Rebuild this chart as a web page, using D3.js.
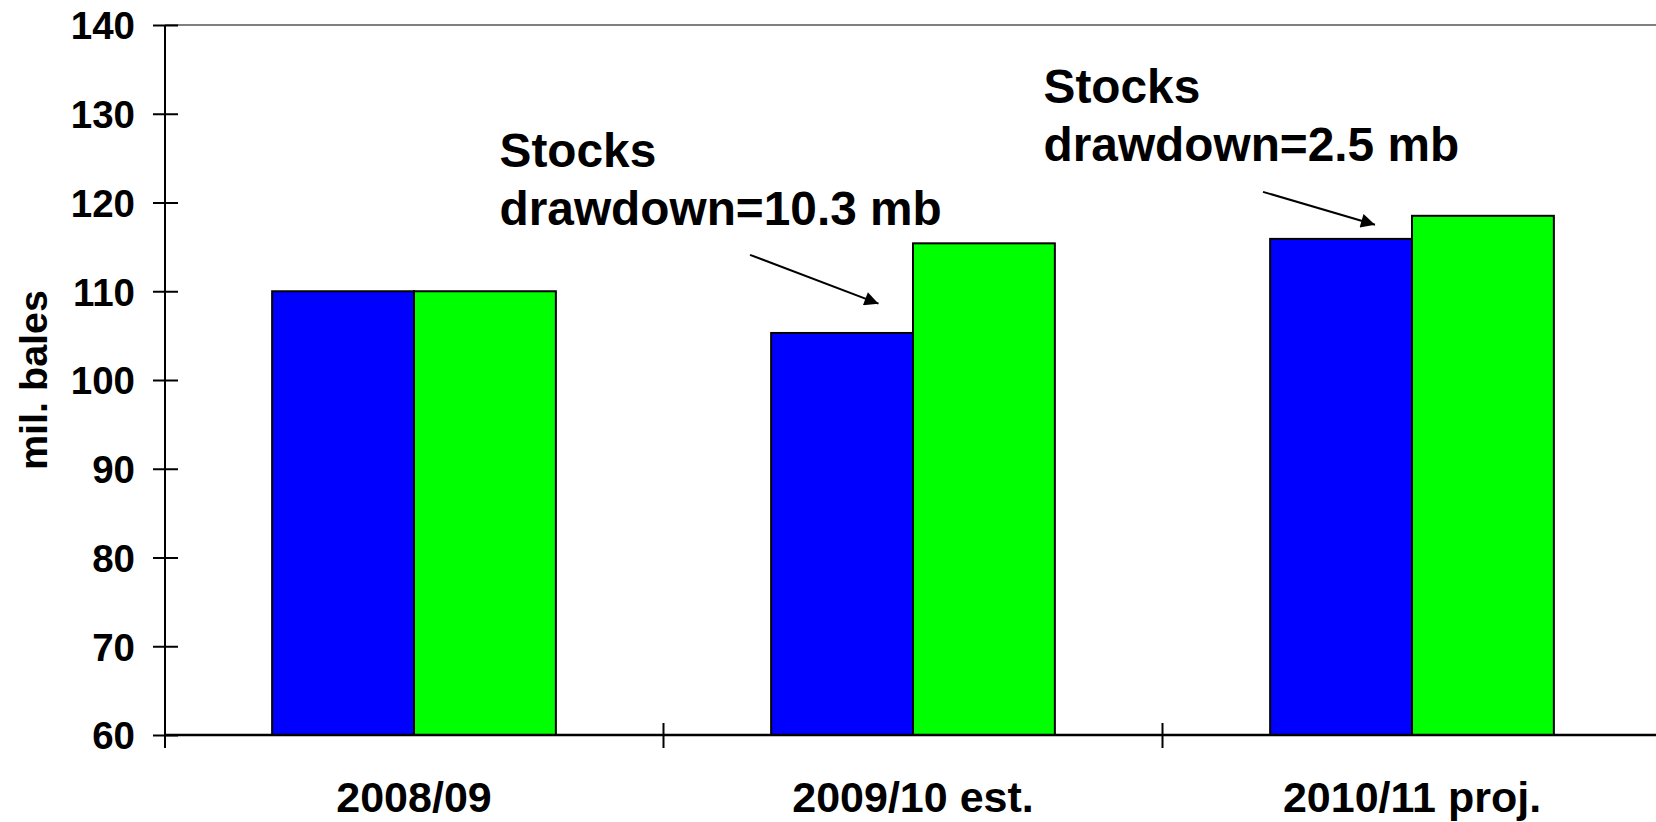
<!DOCTYPE html>
<html>
<head>
<meta charset="utf-8">
<script src="https://cdn.jsdelivr.net/npm/d3@7"></script>
<style>
  html, body { margin: 0; padding: 0; background: #fff; }
  svg { display: block; }
  text { font-family: "Liberation Sans", Arial, sans-serif; font-weight: bold; fill: #000; }
</style>
</head>
<body>
<svg id="chart" width="1656" height="822"></svg>
<script>
// ---- data ----
const categories = ["2008/09", "2009/10 est.", "2010/11 proj."];
const seriesNames = ["blue", "green"];
const blueValues = [110.0, 105.3, 115.9];
const greenValues = [110.0, 115.4, 118.5];
const yTicks = [60, 70, 80, 90, 100, 110, 120, 130, 140];
const yTitle = "mil. bales";
const annotLines = [["Stocks", "drawdown=10.3 mb"], ["Stocks", "drawdown=2.5 mb"]];
const annotCategory = ["2009/10 est.", "2010/11 proj."];
const annotTextValue = [124.0, 131.2];
const arrowFromValue = [114.1, 121.2];
const arrowToValue = [108.6, 117.5];

(function () {
// ---- layout ----
const W = 1656, H = 822;
const mLeft = 165, bandLeft = 164.5, bandRight = 1661.5, mTop = 25, mBottom = 735;
const colors = { blue: "#0000FF", green: "#00FF00" };

const svg = d3.select("#chart");

const y = d3.scaleLinear().domain([60, 140]).range([mBottom, mTop]);
const x = d3.scaleBand().domain(categories).range([bandLeft, bandRight])
  .paddingInner(0.4314).paddingOuter(0.2157);
const x1 = d3.scaleBand().domain(seriesNames).range([0, x.bandwidth()]);
const step = x.step();
const gap = step - x.bandwidth();

// top border (grey)
svg.append("line").attr("x1", mLeft).attr("x2", W).attr("y1", y(140)).attr("y2", y(140))
  .attr("stroke", "#808080").attr("stroke-width", 2);

// bars
const rows = categories.map((c, i) => ({ cat: c, blue: blueValues[i], green: greenValues[i] }));
const groups = svg.append("g").selectAll("g").data(rows).join("g")
  .attr("transform", d => `translate(${x(d.cat)},0)`);
groups.selectAll("rect").data(d => seriesNames.map(k => ({ k, v: d[k] }))).join("rect")
  .attr("x", d => x1(d.k))
  .attr("width", x1.bandwidth())
  .attr("y", d => y(d.v))
  .attr("height", d => y(60) - y(d.v))
  .attr("fill", d => colors[d.k])
  .attr("stroke", "#000").attr("stroke-width", 2);

// y axis
const yAxis = svg.append("g").attr("transform", `translate(${mLeft},0)`)
  .call(d3.axisLeft(y).tickValues(yTicks).tickSize(12).tickPadding(18));
yAxis.select(".domain").remove();
yAxis.selectAll(".tick line").attr("x1", 13).attr("x2", -12).attr("stroke", "#000").attr("stroke-width", 2);
yAxis.selectAll(".tick text").attr("font-size", 38.5).attr("dy", "0.36em")
  .attr("font-family", "'Liberation Sans', Arial, sans-serif").attr("font-weight", "bold");
svg.append("line").attr("x1", mLeft).attr("x2", mLeft).attr("y1", y(140)).attr("y2", mBottom + 13)
  .attr("stroke", "#000").attr("stroke-width", 2);

// x axis
svg.append("line").attr("x1", mLeft).attr("x2", W).attr("y1", mBottom).attr("y2", mBottom)
  .attr("stroke", "#000").attr("stroke-width", 2.5);
const boundaries = categories.slice(1).map(c => x(c) - gap / 2);
svg.append("g").selectAll("line").data(boundaries).join("line")
  .attr("x1", d => d).attr("x2", d => d)
  .attr("y1", mBottom - 12).attr("y2", mBottom + 13)
  .attr("stroke", "#000").attr("stroke-width", 2);
svg.append("g").selectAll("text").data(categories).join("text")
  .attr("x", d => x(d) + x.bandwidth() / 2)
  .attr("y", 812)
  .attr("text-anchor", "middle")
  .attr("font-size", 43)
  .text(d => d);

// y title
svg.append("text")
  .attr("transform", `translate(47,380) rotate(-90)`)
  .attr("text-anchor", "middle")
  .attr("font-size", 39.5)
  .text(yTitle);

// annotations
const defs = svg.append("defs");
defs.append("marker").attr("id", "arrowhead")
  .attr("viewBox", "0 0 10 10").attr("refX", 10).attr("refY", 5)
  .attr("markerWidth", 9).attr("markerHeight", 7).attr("markerUnits", "strokeWidth")
  .attr("orient", "auto")
  .append("path").attr("d", "M0,0 L10,5 L0,10 Z").attr("fill", "#000");

const annotTextDx = [-413.5, -368.5];
const arrowFromDx = [-163, -149];
const arrowToDx = [-34.5, -37];
annotLines.forEach((lines, i) => {
  const cx = x(annotCategory[i]) + x.bandwidth() / 2;
  const t = svg.append("text")
    .attr("x", cx + annotTextDx[i])
    .attr("y", y(annotTextValue[i]))
    .attr("font-size", 47.8);
  lines.forEach((s, j) => {
    t.append("tspan").attr("x", cx + annotTextDx[i]).attr("dy", j === 0 ? 0 : 58).text(s);
  });
  svg.append("line")
    .attr("x1", cx + arrowFromDx[i]).attr("y1", y(arrowFromValue[i]))
    .attr("x2", cx + arrowToDx[i]).attr("y2", y(arrowToValue[i]))
    .attr("stroke", "#000").attr("stroke-width", 2)
    .attr("marker-end", "url(#arrowhead)");
});
})();
</script>
</body>
</html>
